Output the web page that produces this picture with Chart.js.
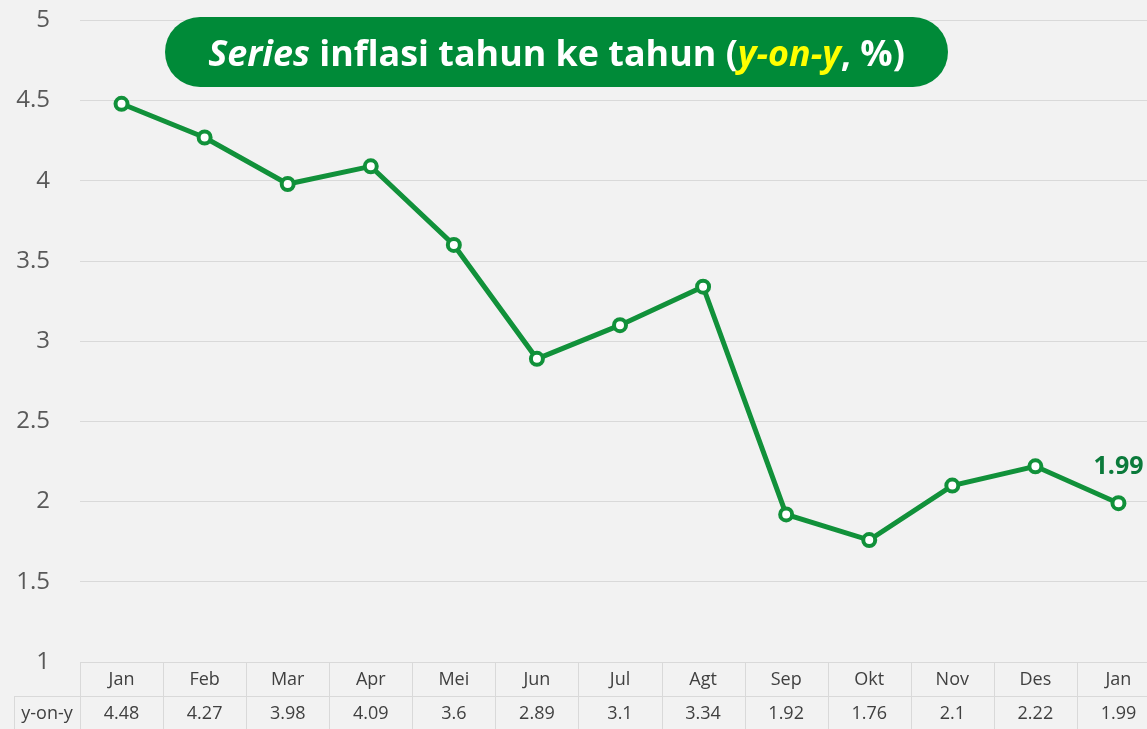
<!DOCTYPE html>
<html>
<head>
<meta charset="utf-8">
<script src="https://cdn.jsdelivr.net/npm/chart.js@4"></script>
<style>
  html, body { margin: 0; padding: 0; background: #f2f2f2; overflow: hidden; }
  #wrap { width: 1170px; height: 753px; margin-top: -24px; }
</style>
</head>
<body>
<div id="wrap"><canvas id="chart" width="1170" height="753"></canvas></div>
<script>
const months = ['Jan', 'Feb', 'Mar', 'Apr', 'Mei', 'Jun', 'Jul', 'Agt', 'Sep', 'Okt', 'Nov', 'Des', 'Jan'];
const yoy = [4.48, 4.27, 3.98, 4.09, 3.6, 2.89, 3.1, 3.34, 1.92, 1.76, 2.1, 2.22, 1.99];
const seriesName = 'y-on-y';

const green = '#11913a';
const gridColor = '#d9d9d9';
const textColor = '#595959';
const baseFont = '"Open Sans", "Noto Sans", sans-serif';
const shiftY = 24; // canvas is pulled up by this much

// title pill + data table under the plot
const decorPlugin = {
    id: 'decor',
    afterDraw(chart) {
        const ctx = chart.ctx;
        const x = chart.scales.x;
        const area = chart.chartArea;
        const top = area.bottom;
        const mid = top + 34;
        const bottom = chart.height;
        const step = x.getPixelForValue(1) - x.getPixelForValue(0);

        ctx.save();
        ctx.strokeStyle = gridColor;
        ctx.lineWidth = 1;
        ctx.beginPath();
        ctx.moveTo(14, mid + 0.5); ctx.lineTo(chart.width, mid + 0.5);
        ctx.moveTo(14.5, mid); ctx.lineTo(14.5, bottom);
        for (let i = 0; i <= months.length; i++) {
            const px = Math.round(x.getPixelForValue(i) - step / 2) + 0.5;
            ctx.moveTo(px, top); ctx.lineTo(px, bottom);
        }
        ctx.stroke();

        ctx.fillStyle = '#404040';
        ctx.font = '18px ' + baseFont;
        ctx.textAlign = 'center';
        ctx.textBaseline = 'middle';
        months.forEach((m, i) => {
            ctx.fillText(m, x.getPixelForValue(i), top + 18);
            ctx.fillText(String(yoy[i]), x.getPixelForValue(i), mid + 18);
        });
        ctx.fillText(seriesName, (14 + area.left) / 2, mid + 18);

        // last value label
        const last = yoy.length - 1;
        const lx = x.getPixelForValue(last);
        const ly = chart.scales.y.getPixelForValue(yoy[last]);
        ctx.fillStyle = '#0b7a3b';
        ctx.font = 'bold 25px ' + baseFont;
        ctx.fillText(String(yoy[last]), lx, ly - 36);

        // title pill
        const bx = 165, by = 17 + shiftY, bw = 783, bh = 70, r = 35;
        ctx.fillStyle = '#008a38';
        ctx.beginPath();
        ctx.roundRect(bx, by, bw, bh, r);
        ctx.fill();

        const parts = [
            { t: 'Series', italic: true, c: '#ffffff' },
            { t: ' inflasi tahun ke tahun (', italic: false, c: '#ffffff' },
            { t: 'y-on-y', italic: true, c: '#ffff00' },
            { t: ', %)', italic: false, c: '#ffffff' }
        ];
        const targetW = 697;
        let size = 34;
        const fontFor = (p, s) => (p.italic ? 'italic ' : '') + 'bold ' + s + 'px ' + baseFont;
        const measure = s => parts.reduce((w, p) => { ctx.font = fontFor(p, s); return w + ctx.measureText(p.t).width; }, 0);
        const w0 = measure(size);
        size = Math.min(36, size * targetW / w0);
        let tx = bx + bw / 2 - measure(size) / 2;
        ctx.textAlign = 'left';
        ctx.textBaseline = 'middle';
        parts.forEach(p => {
            ctx.font = fontFor(p, size);
            ctx.fillStyle = p.c;
            ctx.fillText(p.t, tx, by + bh / 2 + 4);
            tx += ctx.measureText(p.t).width;
        });
        ctx.restore();
    }
};

new Chart(document.getElementById('chart'), {
    type: 'line',
    data: {
        labels: months,
        datasets: [{
            label: seriesName,
            data: yoy,
            borderColor: green,
            borderWidth: 5,
            pointRadius: 6,
            pointBorderWidth: 4,
            pointBackgroundColor: '#ffffff',
            pointBorderColor: green,
            tension: 0
        }]
    },
    options: {
        responsive: false,
        animation: false,
        layout: { padding: { top: 0, right: 0, bottom: 67, left: 0 } },
        plugins: { legend: { display: false }, tooltip: { enabled: false } },
        scales: {
            x: {
                display: false,
                offset: true
            },
            y: {
                min: 1,
                max: 5,
                ticks: {
                    stepSize: 0.5,
                    padding: 30,
                    color: textColor,
                    font: { family: baseFont, size: 24 },
                    callback: v => String(v)
                },
                grid: { color: gridColor, drawTicks: false },
                border: { display: false },
                afterFit(scale) { scale.width = 80; }
            }
        }
    },
    plugins: [decorPlugin]
});
</script>
</body>
</html>
